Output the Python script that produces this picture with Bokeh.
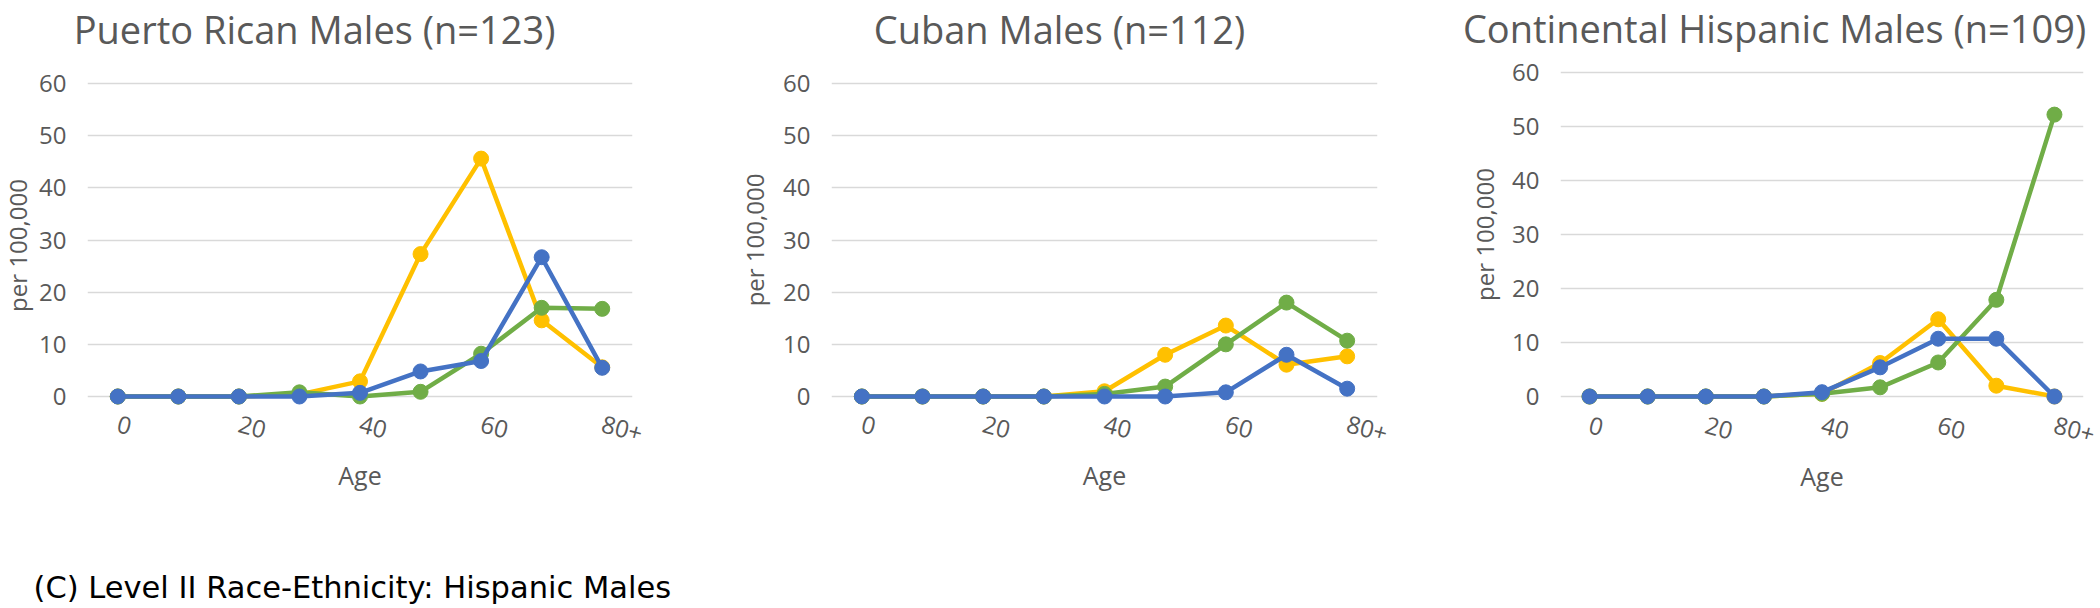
import math
from bokeh.plotting import figure
from bokeh.models import Range1d, FixedTicker
from bokeh.layouts import column, row
from bokeh.embed import file_html
from bokeh.resources import INLINE
from bokeh.core.properties import value

# ---------------- data ----------------
age_index = [0, 1, 2, 3, 4, 5, 6, 7, 8]
tick_positions = [0, 2, 4, 6, 8]
tick_labels = ["0", "20", "40", "60", "80+"]
y_ticks = [0, 10, 20, 30, 40, 50, 60]

titles = ["Puerto Rican Males (n=123)", "Cuban Males (n=112)",
          "Continental Hispanic Males (n=109)"]
y_label = "per 100,000"
x_label = "Age"
caption = "(C) Level II Race-Ethnicity: Hispanic Males"

pr_yellow = [0, 0, 0, 0.4, 2.9, 27.3, 45.6, 14.6, 5.6]
pr_green = [0, 0, 0, 0.8, 0, 0.9, 8.2, 17.0, 16.8]
pr_blue = [0, 0, 0, 0, 0.7, 4.8, 6.8, 26.7, 5.5]

cu_yellow = [0, 0, 0, 0, 1.0, 8.0, 13.6, 6.1, 7.7]
cu_green = [0, 0, 0, 0, 0.5, 1.9, 10.0, 18.0, 10.7]
cu_blue = [0, 0, 0, 0, 0, 0, 0.8, 8.0, 1.5]

ch_yellow = [0, 0, 0, 0, 0.5, 6.2, 14.3, 2.0, 0]
ch_green = [0, 0, 0, 0, 0.5, 1.7, 6.3, 17.9, 52.2]
ch_blue = [0, 0, 0, 0, 0.8, 5.4, 10.7, 10.7, 0]

# ---------------- style ----------------
YELLOW = "#FFC000"
GREEN = "#70AD47"
BLUE = "#4472C4"
GREY = "#595959"
GRID = "#D9D9D9"
FONT = "Open Sans"

TITLE_H = 55      # height of the title strip
ROW_TOP = TITLE_H
ROW_H = 453       # height of the panel row
CAP_H = 100
X0, X1 = -0.5, 8.5
BASE_SHIFT = 0.36  # glyph text sits this many em below its anchor


def text_fig(width, height):
    f = figure(width=width, height=height, x_range=Range1d(0, width),
               y_range=Range1d(0, height), output_backend="svg",
               toolbar_location=None, min_border=0, title=None,
               x_axis_location=None, y_axis_location=None, frame_align=False)
    f.grid.visible = False
    f.outline_line_color = None
    f.background_fill_color = "white"
    f.border_fill_color = "white"
    return f


def make_panel(series, page_left, width, f_left, f_right, y0_px, y60_px,
               f_top, f_bottom, xlab_standoff, ylab_standoff):
    ml = f_left - page_left
    mr = page_left + width - f_right
    mt = f_top - ROW_TOP
    mb = ROW_TOP + ROW_H - f_bottom
    scale = (y0_px - y60_px) / 60.0
    y_hi = (y0_px - f_top) / scale
    y_lo = -(f_bottom - y0_px) / scale

    p = figure(width=width, height=ROW_H, x_range=Range1d(X0, X1),
               y_range=Range1d(y_lo, y_hi), output_backend="svg",
               toolbar_location=None, title=None, frame_align=False,
               min_border_left=ml, min_border_right=mr,
               min_border_top=mt, min_border_bottom=mb)
    p.outline_line_color = None
    p.background_fill_color = "white"
    p.border_fill_color = "white"

    p.xgrid.visible = False
    p.ygrid.ticker = FixedTicker(ticks=y_ticks)
    p.ygrid.grid_line_color = GRID
    p.ygrid.grid_line_width = 1.5

    xa = p.xaxis[0]
    xa.ticker = FixedTicker(ticks=tick_positions)
    xa.major_label_overrides = dict(zip(tick_positions, tick_labels))
    xa.major_label_orientation = -0.26
    xa.axis_line_color = None
    xa.major_tick_line_color = None
    xa.minor_tick_line_color = None
    xa.major_label_standoff = xlab_standoff
    xa.major_label_text_font = FONT
    xa.major_label_text_font_size = "24px"
    xa.major_label_text_color = GREY
    xa.axis_label = x_label
    xa.axis_label_text_font = FONT
    xa.axis_label_text_font_size = "25px"
    xa.axis_label_text_font_style = "normal"
    xa.axis_label_text_color = GREY
    xa.axis_label_standoff = 4

    ya = p.yaxis[0]
    ya.ticker = FixedTicker(ticks=y_ticks)
    ya.axis_line_color = None
    ya.major_tick_line_color = None
    ya.minor_tick_line_color = None
    ya.major_tick_out = 0
    ya.minor_tick_out = 0
    ya.major_label_standoff = 21
    ya.major_label_text_font = FONT
    ya.major_label_text_font_size = "24px"
    ya.major_label_text_color = GREY
    if ylab_standoff is not None:
        ya.axis_label = y_label
        ya.axis_label_text_font = FONT
        ya.axis_label_text_font_size = "24px"
        ya.axis_label_text_font_style = "normal"
        ya.axis_label_text_color = GREY
        ya.axis_label_standoff = ylab_standoff

    for color, ys in series:
        p.line(age_index, ys, line_color=color, line_width=4.5)
        p.scatter(age_index, ys, size=15, fill_color=color, line_color=color)
    return p


# title strip
tfig = text_fig(2100, TITLE_H)
title_size = 38
title_x = [314, 1059, 1774]
title_base = [42, 42, 41]
tfig.text(x=title_x, y=[TITLE_H - (b - BASE_SHIFT * title_size) for b in title_base],
          text=titles, text_font=value(FONT), text_font_size=value(f"{title_size}px"),
          text_color=GREY, text_align="center", text_baseline="alphabetic")

# y label of the first panel (no room for a Bokeh axis label there)
LAB1_W = 36
lab1 = text_fig(LAB1_W, ROW_H)
lab1.text(x=[17], y=[ROW_TOP + ROW_H - 245], text=[y_label], angle=math.pi / 2,
          text_font=value(FONT), text_font_size=value("24px"), text_color=GREY,
          text_align="center", text_baseline="alphabetic")

# panel row
p1 = make_panel([(YELLOW, pr_yellow), (GREEN, pr_green), (BLUE, pr_blue)],
                LAB1_W, 710 - LAB1_W, 85, 632, 396, 83, 62, 417, 0, None)
p2 = make_panel([(YELLOW, cu_yellow), (GREEN, cu_green), (BLUE, cu_blue)],
                710, 710, 831, 1377, 396, 83, 62, 417, 0, 9)
p3 = make_panel([(YELLOW, ch_yellow), (GREEN, ch_green), (BLUE, ch_blue)],
                1420, 680, 1560, 2083, 396, 72, 62, 406, 12, 8)

# caption
cap_size = 30.5
cap = text_fig(800, CAP_H)
cap.text(x=[33], y=[608 - (598 - BASE_SHIFT * cap_size)], text=[caption],
         text_font=value("DejaVu Sans"), text_font_size=value(f"{cap_size}px"),
         text_color="black", text_align="left", text_baseline="alphabetic")

layout = column(tfig, row(lab1, p1, p2, p3), cap)
open("out.html", "w").write(file_html(layout, INLINE))
